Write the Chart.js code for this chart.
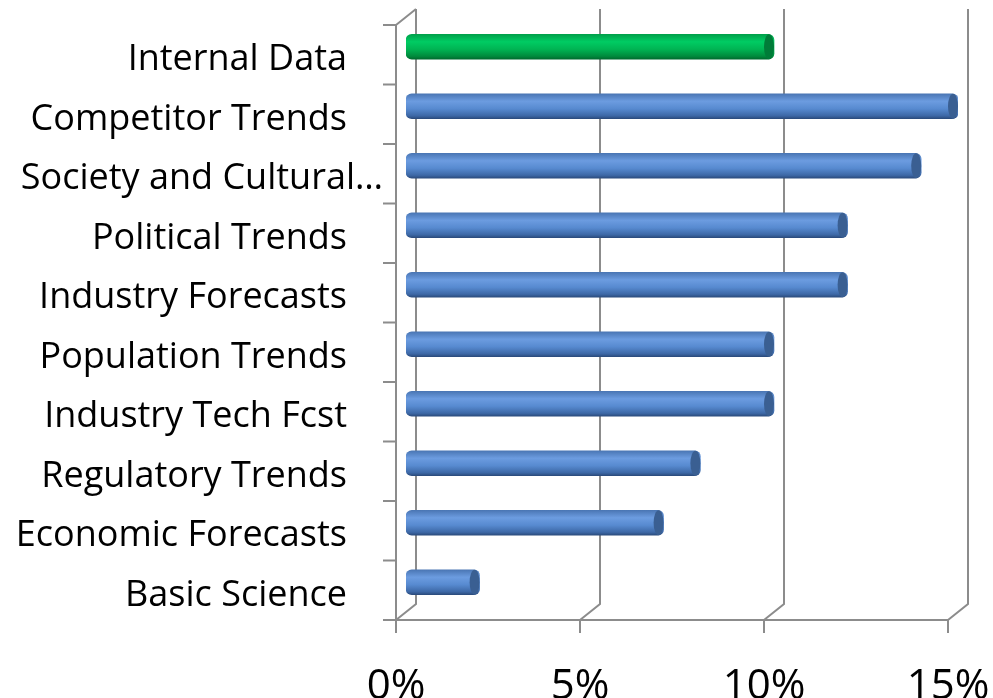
<!DOCTYPE html>
<html>
<head>
<meta charset="utf-8">
<script src="https://cdn.jsdelivr.net/npm/chart.js@4"></script>
<style>
  html, body { margin: 0; padding: 0; background: #fff; }
  #wrap { width: 993px; height: 698px; }
</style>
</head>
<body>
<div id="wrap"><canvas id="myChart" width="993" height="698"></canvas></div>
<script>
const categories = ['Internal Data', 'Competitor Trends', 'Society and Cultural…', 'Political Trends',
  'Industry Forecasts', 'Population Trends', 'Industry Tech Fcst', 'Regulatory Trends',
  'Economic Forecasts', 'Basic Science'];
const shares = [10, 15, 14, 12, 12, 10, 10, 8, 7, 2];
const tickValues = [0, 5, 10, 15];

const highlight = 0;       // green bar
const depth = 10;          // half of the 3d depth offset
const rise = 8;
const axisColor = '#8c8c8c';

function barFill(c) {
  const chart = c.chart;
  const green = c.dataIndex === highlight;
  const flat = green ? '#00b050' : '#4f81bd';
  const ys = chart.scales.y;
  if (!ys || c.dataIndex === undefined) return flat;
  const y = ys.getPixelForValue(c.dataIndex);
  if (!Number.isFinite(y)) return flat;
  const g = chart.ctx.createLinearGradient(0, y - 12.5, 0, y + 12.5);
  if (green) {
    g.addColorStop(0, '#00a04a');
    g.addColorStop(0.3, '#00cc63');
    g.addColorStop(0.6, '#00b453');
    g.addColorStop(0.88, '#008a3c');
    g.addColorStop(1, '#006a2e');
  } else {
    g.addColorStop(0, '#4a76b4');
    g.addColorStop(0.3, '#6c9ce0');
    g.addColorStop(0.6, '#578ad0');
    g.addColorStop(0.88, '#3d68a6');
    g.addColorStop(1, '#2b4b7c');
  }
  return g;
}

const frame3d = {
  id: 'frame3d',
  beforeDatasetsDraw(chart) {
    const { ctx, chartArea: a, scales: { x, y } } = chart;
    const fb = a.bottom + rise, ft = a.top + rise;   // front plane
    const bb = a.bottom - rise, bt = a.top - rise;   // back plane
    const fx0 = x.getPixelForValue(0) - depth;
    ctx.save();
    ctx.strokeStyle = axisColor;
    ctx.lineWidth = 2;
    ctx.beginPath();
    tickValues.forEach(v => {
      const px = x.getPixelForValue(v);
      // back gridline + floor diagonal
      ctx.moveTo(px + depth, bt);
      ctx.lineTo(px + depth, bb);
      ctx.lineTo(px - depth, fb);
      // front tick mark
      ctx.moveTo(px - depth, fb);
      ctx.lineTo(px - depth, fb + 13);
    });
    // front category axis
    ctx.moveTo(fx0, ft);
    ctx.lineTo(fx0, fb);
    ctx.moveTo(fx0, ft);
    ctx.lineTo(fx0 + 2 * depth, bt);
    // front value axis
    ctx.moveTo(fx0 - 13, fb);
    ctx.lineTo(x.getPixelForValue(15) - depth, fb);
    // category ticks
    const step = (a.bottom - a.top) / categories.length;
    for (let i = 0; i <= categories.length; i++) {
      ctx.moveTo(fx0 - 13, ft + i * step);
      ctx.lineTo(fx0, ft + i * step);
    }
    ctx.stroke();
    ctx.restore();
  },
  afterDatasetsDraw(chart) {
    const { ctx } = chart;
    const meta = chart.getDatasetMeta(0);
    ctx.save();
    meta.data.forEach((el, i) => {
      const h = el.height / 2;
      ctx.beginPath();
      ctx.ellipse(el.x - 5, el.y, 5, h, 0, 0, Math.PI * 2);
      ctx.fillStyle = i === highlight ? '#007c38' : '#3a5f92';
      ctx.fill();
    });
    ctx.restore();
  }
};

new Chart(document.getElementById('myChart'), {
  type: 'bar',
  data: {
    labels: categories,
    datasets: [{
      data: shares,
      backgroundColor: barFill,
      barThickness: 25,
      borderRadius: 6,
      borderSkipped: false
    }]
  },
  options: {
    indexAxis: 'y',
    responsive: false,
    animation: false,
    layout: { autoPadding: false, padding: { top: 17, right: 35, left: 0, bottom: 0 } },
    plugins: { legend: { display: false }, tooltip: { enabled: false } },
    scales: {
      x: {
        min: 0,
        max: 15,
        grid: { display: false, drawTicks: false },
        border: { display: false },
        afterFit(s) {
          s.height = 86;
          s.paddingLeft = 0;
          s.paddingRight = 0;
        },
        ticks: {
          stepSize: 5,
          padding: 50,
          labelOffset: -depth,
          color: '#000',
          font: { family: 'Open Sans', size: 42 },
          callback: v => v + '%'
        }
      },
      y: {
        grid: { display: false, drawTicks: false },
        border: { display: false },
        afterFit(s) {
          s.width = 406;
          s.paddingTop = 0;
          s.paddingBottom = 0;
        },
        ticks: {
          padding: 23,
          labelOffset: 13,
          color: '#000',
          font: { family: 'Open Sans', size: 36 },
          callback: function (v, i) {
            const t = categories[i];
            return t.endsWith('…') ? t : t + '\u2002\u2002';
          }
        }
      }
    }
  },
  plugins: [frame3d]
});
</script>
</body>
</html>
